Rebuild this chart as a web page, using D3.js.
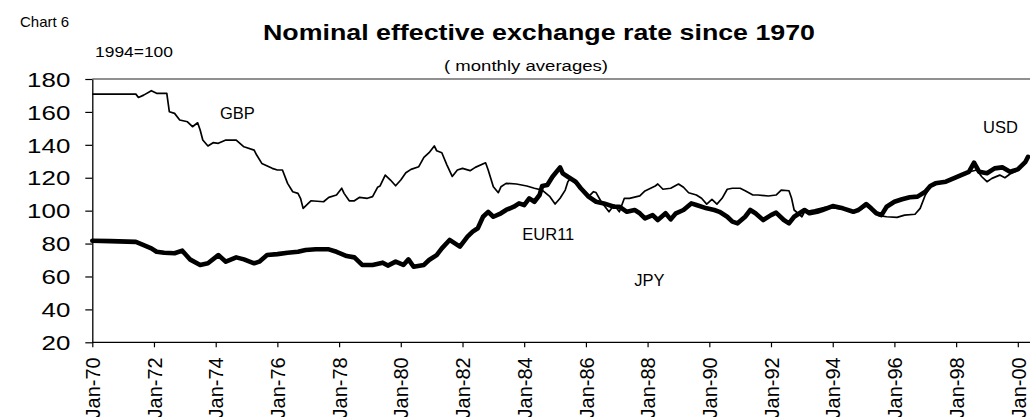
<!DOCTYPE html>
<html><head><meta charset="utf-8">
<script src="https://cdn.jsdelivr.net/npm/d3@7"></script>
<style>
html,body{margin:0;padding:0;background:#fff;}
svg{display:block;font-family:"Liberation Sans",Arial,Helvetica,sans-serif;}
</style></head><body>
<svg id="chart" width="1030" height="417"></svg>
<script>
// ---- data ----
const gbpMonths = ["1970-01","1971-06","1971-07","1971-09","1971-12","1972-02","1972-06","1972-07","1972-09","1972-11",
"1973-02","1973-04","1973-06","1973-07","1973-08","1973-10","1973-12","1974-02","1974-05","1974-09","1974-12",
"1975-04","1975-05","1975-07","1975-11","1976-01","1976-03","1976-05","1976-07","1976-09","1976-10","1976-11",
"1977-02","1977-07","1977-09","1977-12","1978-02","1978-03","1978-05","1978-07","1978-09","1978-12",
"1979-02","1979-04","1979-05","1979-07","1979-09","1979-11","1980-01","1980-03","1980-05","1980-08","1980-10","1980-12",
"1981-02","1981-03","1981-05","1981-07","1981-09","1981-11","1982-01","1982-04","1982-06","1982-10","1982-11",
"1983-01","1983-03","1983-04","1983-06","1983-10","1984-02","1984-05","1984-08","1984-11",
"1985-01","1985-03","1985-05","1985-06","1985-07","1985-09","1985-12","1986-02","1986-04","1986-05","1986-07","1986-10","1986-12",
"1987-02","1987-04","1987-06","1987-10","1987-12","1988-04","1988-05","1988-07","1988-10",
"1989-01","1989-03","1989-05","1989-08","1989-10","1989-12","1990-02","1990-04","1990-06","1990-08","1990-10",
"1991-01","1991-03","1991-06","1991-08","1991-12","1992-03","1992-05","1992-08","1992-09","1992-10",
"1993-01","1993-02","1993-06","1993-10","1994-02","1994-06","1994-09","1994-12","1995-02","1995-04","1995-07","1995-10",
"1996-02","1996-05","1996-09","1996-11","1997-01","1997-03","1997-05","1997-08","1997-11","1998-03","1998-06","1998-09","1998-11",
"1999-01","1999-03","1999-06","1999-08","1999-10","2000-01","2000-04","2000-05"];
const gbpValues = [170.8,170.8,168.8,170.2,172.9,171.3,171.3,160.1,159.1,155.1,
154.0,151.0,153.4,149.0,142.9,139.3,141.3,140.9,142.9,142.9,138.8,
136.8,133.8,128.7,125.7,124.7,124.7,116.6,111.5,110.5,107.5,101.4,
106.0,105.4,108.1,109.5,113.6,110.5,106.0,106.0,108.1,107.5,
108.5,114.2,115.0,121.6,118.6,115.1,118.6,123.0,125.1,126.7,132.4,135.2,
139.3,136.4,135.2,127.7,120.8,124.7,125.7,124.3,126.3,129.1,124.7,
114.5,110.9,114.5,116.6,116.2,115.0,113.6,112.5,108.5,
104.0,107.5,112.5,117.6,119.5,116.6,112.5,108.5,111.5,111.0,105.4,99.3,103.4,
99.3,107.5,107.5,109.0,112.0,115.0,116.2,113.0,113.6,
116.2,114.2,110.9,109.5,107.5,104.0,106.9,104.0,107.5,113.0,113.6,
113.6,112.1,109.5,109.5,108.9,109.5,112.5,112.1,107.5,100.4,
96.3,99.3,100.5,102.0,101.5,100.8,99.8,100.6,103.0,100.5,97.0,96.3,
95.9,97.3,97.8,101.4,109.5,114.5,116.0,117.5,119.0,121.0,123.5,124.7,120.6,
117.6,119.6,121.6,120.0,122.3,124.5,129.0,131.5];

const usdMonths = ["1970-01","1970-08","1971-06","1971-09","1971-12","1972-02","1972-05","1972-09","1972-12",
"1973-03","1973-07","1973-10","1974-02","1974-05","1974-09","1974-12","1975-04","1975-06","1975-09",
"1976-01","1976-05","1976-09","1976-12","1977-04","1977-09","1977-12","1978-04","1978-07","1978-10",
"1979-02","1979-06","1979-08","1979-11","1980-02","1980-04","1980-06","1980-10","1980-12",
"1981-03","1981-05","1981-08","1981-12","1982-03","1982-05","1982-07","1982-09","1982-11",
"1983-01","1983-04","1983-06","1983-09","1983-11","1984-01","1984-03","1984-05","1984-07","1984-08","1984-10","1984-12",
"1985-03","1985-04","1985-06","1985-09","1985-11","1986-02","1986-05","1986-08","1986-12",
"1987-02","1987-05","1987-08","1987-10","1987-12","1988-03","1988-05","1988-08","1988-10","1988-12",
"1989-03","1989-06","1989-08","1989-12","1990-03","1990-05","1990-08","1990-10","1990-12",
"1991-03","1991-05","1991-07","1991-10","1992-01","1992-03","1992-06","1992-08","1992-10",
"1993-02","1993-04","1993-07","1993-09","1994-01","1994-05","1994-09","1994-11",
"1995-02","1995-04","1995-06","1995-08","1995-10","1996-01","1996-04","1996-07","1996-10",
"1997-01","1997-03","1997-05","1997-09","1997-12","1998-03","1998-06","1998-08","1998-10",
"1999-01","1999-04","1999-07","1999-10","2000-01","2000-04","2000-05"];
const usdValues = [81.7,81.5,81.0,79.1,77.1,75.0,74.4,74.1,75.7,
70.4,67.0,68.0,73.0,69.0,71.6,70.4,68.0,69.0,73.0,
73.6,74.4,75.0,76.1,76.5,76.5,75.0,72.4,71.6,67.0,
67.0,68.4,66.6,69.0,67.0,70.4,65.9,67.0,70.0,
73.0,77.1,82.2,78.1,84.2,87.2,89.3,96.3,99.3,
96.3,98.4,100.4,102.4,104.4,103.4,107.5,105.4,109.5,115.0,115.6,120.6,
126.3,122.7,120.6,117.6,113.6,108.5,105.4,104.4,102.4,
102.4,99.3,100.4,98.4,95.3,97.3,94.3,98.4,94.7,98.4,
100.4,104.4,103.4,101.4,100.4,99.3,96.3,93.3,92.3,
96.3,100.4,98.4,94.3,97.3,98.8,94.3,92.3,96.3,
100.4,98.4,99.3,100.4,102.8,101.4,99.3,100.4,
104.0,101.4,98.4,97.3,102.4,105.4,106.9,108.1,108.5,
111.5,115.0,116.6,117.6,119.6,121.6,123.6,129.1,123.6,
122.7,125.7,126.3,123.6,125.1,129.7,132.7];

const yTickValues = [20,40,60,80,100,120,140,160,180];
const xTickYears = [1970,1972,1974,1976,1978,1980,1982,1984,1986,1988,1990,1992,1994,1996,1998,2000];
const seriesLabels = ["GBP","USD","EUR11","JPY"];
const chartNumber = "Chart 6";
const titleText = "Nominal effective exchange rate since 1970";
const subtitleText = "( monthly averages)";
const baseText = "1994=100";

// ---- drawing ----
const parseM = d3.utcParse("%Y-%m");
const gbp = gbpMonths.map((m,i)=>({date:parseM(m), v:gbpValues[i]}));
const usd = usdMonths.map((m,i)=>({date:parseM(m), v:usdValues[i]}));

const svg = d3.select("#chart");
const W = 1030;

const x = d3.scaleUtc()
  .domain([new Date(Date.UTC(1970,0,1)), new Date(Date.UTC(2000,0,1))])
  .range([92.3, 1017.8]);
const y = d3.scaleLinear().domain([20,180]).range([342.3, 79]);

// header texts
svg.append("text").attr("x",20).attr("y",27).attr("font-size",15).attr("fill","#000").text(chartNumber);
svg.append("text").attr("x",263).attr("y",39.5).attr("font-size",22).attr("font-weight","bold")
  .attr("textLength",552).attr("lengthAdjust","spacingAndGlyphs").attr("fill","#000").text(titleText);
svg.append("text").attr("x",95).attr("y",57).attr("font-size",15)
  .attr("textLength",78).attr("lengthAdjust","spacingAndGlyphs").attr("fill","#000").text(baseText);
svg.append("text").attr("x",444).attr("y",71).attr("font-size",14)
  .attr("textLength",164).attr("lengthAdjust","spacingAndGlyphs").attr("fill","#000").text(subtitleText);

// frame lines: top border and bottom axis line
const x0 = x.range()[0];
svg.append("line").attr("x1",x0).attr("x2",W).attr("y1",y(180)).attr("y2",y(180))
  .attr("stroke","#222").attr("stroke-width",1.2);
svg.append("line").attr("x1",x0).attr("x2",W).attr("y1",y(20)).attr("y2",y(20))
  .attr("stroke","#000").attr("stroke-width",1.3);

// y axis
const gy = svg.append("g").attr("transform",`translate(${x0},0)`)
  .call(d3.axisLeft(y).tickValues(yTickValues).tickSize(7).tickSizeOuter(0).tickFormat(d3.format("d")));
gy.select(".domain").attr("stroke","#000").attr("stroke-width",1.3);
gy.selectAll(".tick line").attr("stroke","#000").attr("stroke-width",1.2);
gy.selectAll(".tick text")
  .attr("x",-22).attr("dy","0.36em")
  .attr("font-size",20).attr("font-family",null).attr("fill","#000")
  .attr("textLength",function(d){return 14.4*String(d).length;})
  .attr("lengthAdjust","spacingAndGlyphs");

// x axis
const gx = svg.append("g").attr("transform",`translate(0,${y(20)})`)
  .call(d3.axisBottom(x).tickValues(xTickYears.map(yr=>new Date(Date.UTC(yr,0,1))))
    .tickSize(5).tickSizeOuter(0).tickFormat(d3.utcFormat("Jan-%y")));
gx.select(".domain").remove();
gx.selectAll(".tick line").attr("stroke","#000").attr("stroke-width",1.2);
gx.selectAll(".tick text")
  .attr("transform","rotate(-90)")
  .attr("text-anchor","end")
  .attr("x",-15).attr("y",0).attr("dy","0.36em")
  .attr("font-size",20).attr("font-family",null).attr("fill","#000");

// lines
const line = d3.line().x(d=>x(d.date)).y(d=>y(d.v)).curve(d3.curveLinear);
svg.append("path").datum(gbp).attr("d",line).attr("fill","none")
  .attr("stroke","#000").attr("stroke-width",1.7).attr("stroke-linejoin","round");
svg.append("path").datum(usd).attr("d",line).attr("fill","none")
  .attr("stroke","#000").attr("stroke-width",4.6).attr("stroke-linejoin","round").attr("stroke-linecap","round");

// series labels
const lab = (name, date, v) => svg.append("text")
  .attr("x", x(date)).attr("y", y(v)).attr("font-size",16.5).attr("fill","#000").text(name);
lab(seriesLabels[0], new Date(Date.UTC(1974,1,20)), 155.7);
lab(seriesLabels[1], new Date(Date.UTC(1998,10,15)), 147.0);
lab(seriesLabels[2], new Date(Date.UTC(1983,11,10)), 82.2);
lab(seriesLabels[3], new Date(Date.UTC(1987,6,28)), 54.4);
</script>
</body></html>
